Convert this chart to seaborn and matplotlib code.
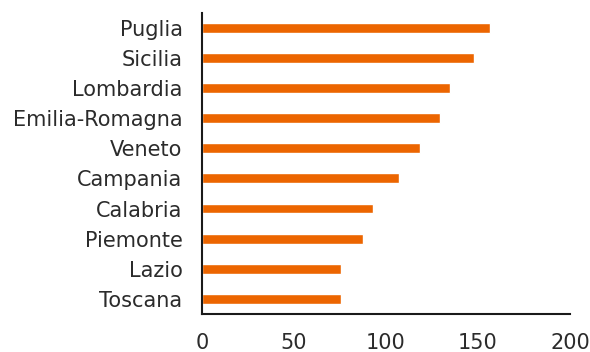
import matplotlib
matplotlib.use("Agg")
import matplotlib.pyplot as plt
import seaborn as sns
import pandas as pd

regions = ["Puglia", "Sicilia", "Lombardia", "Emilia-Romagna", "Veneto",
           "Campania", "Calabria", "Piemonte", "Lazio", "Toscana"]
values = [156.5, 147.8, 134.6, 129.2, 118.3, 107.2, 93.1, 87.7, 75.7, 75.7]
x_ticks = [0, 50, 100, 150, 200]

df = pd.DataFrame({"regione": regions, "valore": values})

sns.set_theme(style="white")
plt.rcParams["font.family"] = ["DejaVu Sans"]

fig = plt.figure(figsize=(5.9, 3.52), dpi=100)
ax = fig.add_axes([0.3424, 0.108, 0.6237, 0.856])

sns.barplot(data=df, x="valore", y="regione", orient="h", color="#EC6500",
            saturation=1, width=0.33, ax=ax)

ax.set_xlim(0, 200)
ax.set_ylim(len(regions) - 0.5, -0.5)
ax.set_xticks(x_ticks)
ax.set_xlabel("")
ax.set_ylabel("")

for side in ["top", "right"]:
    ax.spines[side].set_visible(False)
for side in ["left", "bottom"]:
    ax.spines[side].set_color("#1a1a1a")
    ax.spines[side].set_linewidth(1.5)

ax.tick_params(axis="x", direction="out", length=6, width=1.5, color="#1a1a1a",
               labelsize=15, labelcolor="#2b2b2b", pad=8)
ax.tick_params(axis="y", length=0, labelsize=15, labelcolor="#2b2b2b", pad=14)

fig.savefig("out.png", dpi=100)
